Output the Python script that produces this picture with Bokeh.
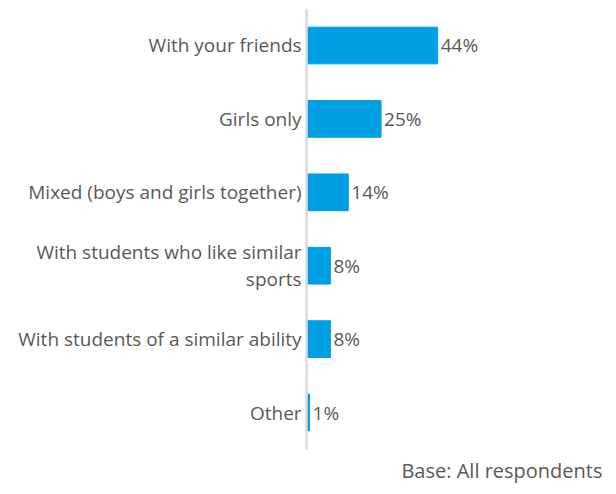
from bokeh.plotting import figure
from bokeh.models import Range1d, ColumnDataSource
from bokeh.core.properties import value
from bokeh.embed import file_html
from bokeh.resources import INLINE

categories = [
    "With your friends",
    "Girls only",
    "Mixed (boys and girls together)",
    "With students who like similar\nsports",
    "With students of a similar ability",
    "Other",
]
values = [44, 25, 14, 8, 8, 1]
value_labels = ["44%", "25%", "14%", "8%", "8%", "1%"]
note = "Base: All respondents"

FONT = "Open Sans"
GREY = "#595959"
BLUE = "#009FE3"

idx = list(range(len(categories)))
src = ColumnDataSource(dict(
    y=idx, v=values, cat=categories, lab=value_labels,
))

p = figure(width=616, height=494, output_backend="svg", toolbar_location=None,
           x_range=Range1d(-102.7, 104.0), y_range=Range1d(6.117, -0.613),
           min_border=0, min_border_left=0, min_border_right=0,
           min_border_top=0, min_border_bottom=0)
p.axis.visible = False
p.grid.visible = False
p.outline_line_color = None
p.background_fill_color = "white"
p.border_fill_color = "white"

p.hbar(y="y", left=0, right="v", height=0.5, color=BLUE, source=src)

# axis line
p.segment(x0=[0], y0=[-0.5], x1=[0], y1=[len(categories) - 0.5],
          line_color="#D9D9D9", line_width=2.5)

p.text(x=0, y="y", text="cat", source=src, x_offset=-5,
       text_align="right", text_baseline="middle",
       text_font=value(FONT), text_font_size="19px", text_color=GREY,
       text_line_height=1.05)

p.text(x="v", y="y", text="lab", source=src, x_offset=3,
       text_align="left", text_baseline="middle",
       text_font=value(FONT), text_font_size="19px", text_color=GREY)

p.text(x=[99.3], y=[5.79], text=[note], text_align="right",
       text_baseline="middle", text_font=value(FONT),
       text_font_size="20px", text_color=GREY)

open("out.html", "w").write(file_html(p, INLINE))
